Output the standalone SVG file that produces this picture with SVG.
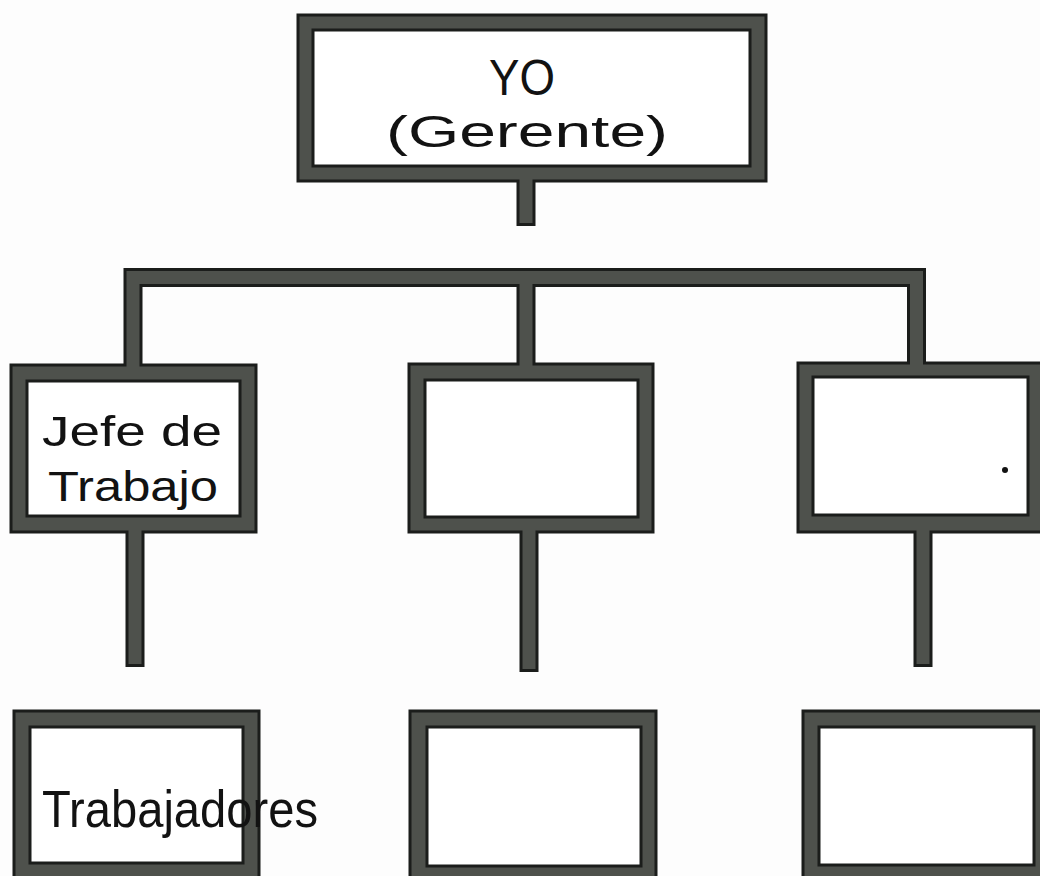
<svg xmlns="http://www.w3.org/2000/svg" width="1040" height="876" viewBox="0 0 1040 876">
<style>
.outer{fill:#4e514c;stroke:#1b1d1b;stroke-width:3}
.inner{fill:#ffffff;stroke:#1b1d1b;stroke-width:3}
.lineout{fill:none;stroke:#1b1d1b;stroke-width:19;stroke-linejoin:miter}
.linein{fill:none;stroke:#4e514c;stroke-width:13;stroke-linejoin:miter}
.hand{font-family:"Liberation Sans","DejaVu Sans",sans-serif;fill:#121212}
</style>
<rect width="1040" height="876" fill="#fdfdfd"/>
<g id="node-yo">
<rect class="outer" x="298" y="15" width="468" height="166"/>
<rect class="inner" x="313" y="30" width="437" height="136"/>
<text class="hand" x="522" y="95" font-size="50" text-anchor="middle" textLength="66" lengthAdjust="spacingAndGlyphs">YO</text>
<text class="hand" x="527" y="147" font-size="44" text-anchor="middle" textLength="282" lengthAdjust="spacingAndGlyphs">(Gerente)</text>
</g>
<g id="node-jefe">
<rect class="outer" x="11" y="365" width="245" height="167"/>
<rect class="inner" x="27" y="381" width="213" height="135"/>
<text class="hand" x="42" y="446" font-size="42" textLength="180" lengthAdjust="spacingAndGlyphs">Jefe de</text>
<text class="hand" x="48" y="501" font-size="42" textLength="170" lengthAdjust="spacingAndGlyphs">Trabajo</text>
</g>
<g id="node-mid2">
<rect class="outer" x="409" y="364" width="244" height="168"/>
<rect class="inner" x="425" y="380" width="213" height="137"/>
</g>
<g id="node-mid3">
<rect class="outer" x="798" y="363" width="260" height="169"/>
<rect class="inner" x="813" y="377" width="215" height="138"/>
<circle cx="1005" cy="470" r="3" fill="#121212"/>
</g>
<g id="node-trabajadores">
<rect class="outer" x="14" y="711" width="245" height="190"/>
<rect class="inner" x="30" y="727" width="213" height="136"/>
<text class="hand" x="42" y="827" font-size="52" textLength="276" lengthAdjust="spacingAndGlyphs">Trabajadores</text>
</g>
<g id="node-bot2">
<rect class="outer" x="410" y="711" width="246" height="190"/>
<rect class="inner" x="427" y="727" width="214" height="139"/>
</g>
<g id="node-bot3">
<rect class="outer" x="803" y="711" width="260" height="190"/>
<rect class="inner" x="819" y="727" width="215" height="138"/>
</g>
<g id="connectors">
<path class="lineout" d="M526 182 V226"/>
<path class="lineout" d="M133 365 V277.5 H916.5 V363 M526 277.5 V364"/>
<path class="lineout" d="M135 532 V667 M529 532 V672 M923 532 V667"/>
<path class="linein" d="M526 178 V223"/>
<path class="linein" d="M133 368 V277.5 H916.5 V366 M526 277.5 V367"/>
<path class="linein" d="M135 529 V664 M529 529 V669 M923 529 V664"/>
</g>
</svg>
